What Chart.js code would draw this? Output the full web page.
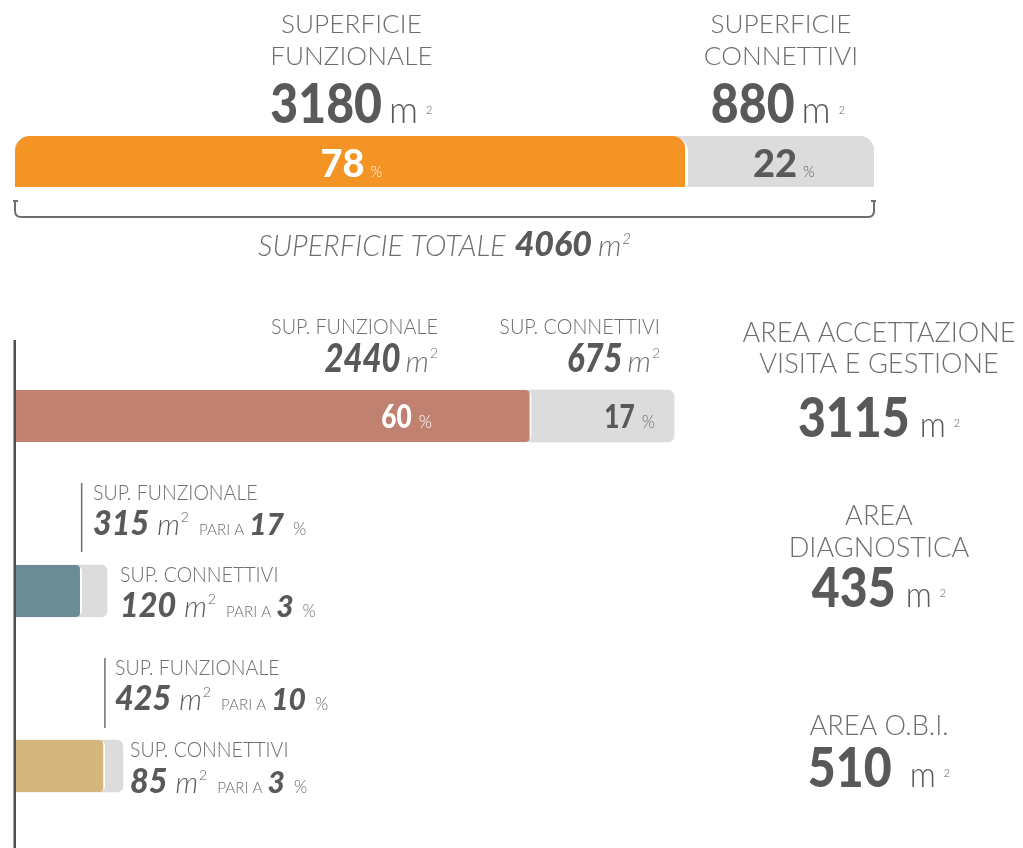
<!DOCTYPE html>
<html>
<head>
<meta charset="utf-8">
<script src="https://cdn.jsdelivr.net/npm/chart.js"></script>
<style>
  html, body { margin: 0; padding: 0; background: #fff; overflow: hidden; }
  #boxTotale { position: absolute; left: 0; top: 0; width: 1023px; height: 270px; }
  #boxAree { position: absolute; left: 0; top: 270px; width: 1023px; height: 590px; }
</style>
</head>
<body>
<div id="boxTotale"><canvas id="chartTotale"></canvas></div>
<div id="boxAree"><canvas id="chartAree"></canvas></div>
<script>
// superficie complessiva (m2)
var totFunzionale = [3180];
var totConnettivi = [880];
var totSuperficie = [4060];
var totPerc = [78, 22];

// suddivisione per area
var aree = [['AREA ACCETTAZIONE', 'VISITA E GESTIONE'], ['AREA', 'DIAGNOSTICA'], ['AREA O.B.I.']];
var areaFunzionale = [2440, 315, 425];
var areaConnettivi = [675, 120, 85];
var areaTotale = [3115, 435, 510];
var percFunzionale = [60, 17, 10];
var percConnettivi = [17, 3, 3];

var coloriAree = ['#c08171', '#6c8c93', '#d5b67c'];
var ARANCIO = '#f39424';
var GRIGIO_BARRA = '#dcdcdd';
var SCURO = '#58595b';
var CHIARO = '#6d6e71';

function L(s) { return '300 ' + s + 'px Lato'; }
function LI(s) { return 'italic 300 ' + s + 'px Lato'; }
function B(s) { return '900 ' + s + 'px Lato'; }
function BI(s) { return 'italic 900 ' + s + 'px Lato'; }

// scrive una riga composta da più pezzi (numero, unità, apice...)
function gruppo(ctx, x, y, align, parts) {
  var tot = 0;
  parts.forEach(function (p) {
    ctx.font = p.f;
    p.w = ctx.measureText(p.t).width * (p.sx || 1);
    tot += p.w + (p.gap || 0);
  });
  tot -= (parts[parts.length - 1].gap || 0);
  var cx = align === 'center' ? x - tot / 2 : (align === 'right' ? x - tot : x);
  parts.forEach(function (p) {
    ctx.save();
    ctx.font = p.f;
    ctx.fillStyle = p.c;
    ctx.textBaseline = 'alphabetic';
    ctx.textAlign = 'left';
    ctx.translate(cx, y + (p.dy || 0));
    ctx.scale(p.sx || 1, 1);
    ctx.fillText(p.t, 0, 0);
    ctx.restore();
    cx += p.w + (p.gap || 0);
  });
}

function metri(num, x, y, align, ctx) {
  gruppo(ctx, x, y, align, [
    { t: String(num), f: B(56), c: SCURO, sx: 0.86, gap: 7 },
    { t: 'm', f: L(38), c: SCURO, sx: 0.95, gap: 8 },
    { t: '2', f: L(11), c: SCURO, dy: -9 }
  ]);
}

function pariA(ctx, x, y, m2, perc) {
  gruppo(ctx, x, y, 'left', [
    { t: String(m2), f: BI(34), c: SCURO, sx: 0.95, gap: 8 },
    { t: 'm', f: LI(29), c: SCURO, gap: 1 },
    { t: '2', f: L(14), c: SCURO, dy: -13, gap: 10 },
    { t: 'PARI A', f: L(16), c: CHIARO, sx: 0.95, gap: 5 },
    { t: String(perc), f: BI(30), c: SCURO, gap: 9 },
    { t: '%', f: L(17), c: CHIARO }
  ]);
}

var testoTotale = {
  id: 'testoTotale',
  afterDatasetsDraw: function (chart) {
    var ctx = chart.ctx, area = chart.chartArea, xs = chart.scales.x;
    var xF = xs.getPixelForValue(totFunzionale[0]);
    var cF = (area.left + xF) / 2;
    var cC = (xF + area.right) / 2;

    gruppo(ctx, cF, 33, 'center', [{ t: 'SUPERFICIE', f: L(25), c: CHIARO, sx: 1.05 }]);
    gruppo(ctx, cF, 65, 'center', [{ t: 'FUNZIONALE', f: L(25), c: CHIARO, sx: 1.05 }]);
    metri(totFunzionale[0], cF, 123, 'center', ctx);
    gruppo(ctx, cF, 177, 'center', [
      { t: String(totPerc[0]), f: B(38), c: '#fff', gap: 6 },
      { t: '%', f: L(15), c: '#fff' }
    ]);

    gruppo(ctx, cC, 33, 'center', [{ t: 'SUPERFICIE', f: L(25), c: CHIARO, sx: 1.05 }]);
    gruppo(ctx, cC, 65, 'center', [{ t: 'CONNETTIVI', f: L(25), c: CHIARO, sx: 1.05 }]);
    metri(totConnettivi[0], cC - 3, 123, 'center', ctx);
    gruppo(ctx, cC + 3, 177, 'center', [
      { t: String(totPerc[1]), f: B(38), c: SCURO, gap: 6 },
      { t: '%', f: L(15), c: SCURO }
    ]);

    // parentesi sotto la barra
    ctx.save();
    ctx.strokeStyle = CHIARO;
    ctx.lineWidth = 2;
    ctx.beginPath();
    ctx.moveTo(area.left - 2, 201); ctx.lineTo(area.left + 3, 201);
    ctx.moveTo(area.left, 201); ctx.lineTo(area.left, 211);
    ctx.quadraticCurveTo(area.left, 217, area.left + 6, 217);
    ctx.lineTo(area.right - 6, 217);
    ctx.quadraticCurveTo(area.right, 217, area.right, 211);
    ctx.lineTo(area.right, 201);
    ctx.moveTo(area.right - 3, 201); ctx.lineTo(area.right + 2, 201);
    ctx.stroke();
    ctx.restore();

    gruppo(ctx, (area.left + area.right) / 2, 256, 'center', [
      { t: 'SUPERFICIE TOTALE', f: LI(29), c: CHIARO, gap: 9 },
      { t: String(totSuperficie[0]), f: BI(34), c: SCURO, gap: 6 },
      { t: 'm', f: LI(30), c: CHIARO, gap: 1 },
      { t: '2', f: LI(15), c: CHIARO, dy: -12 }
    ]);
  }
};

var testoAree = {
  id: 'testoAree',
  afterDatasetsDraw: function (chart) {
    var ctx = chart.ctx, area = chart.chartArea, xs = chart.scales.x;
    ctx.save();
    ctx.translate(0, -270);

    // asse verticale
    ctx.fillStyle = '#4f4f51';
    ctx.fillRect(area.left - 1.5, 340, 2.5, 520);

    // area accettazione
    gruppo(ctx, 438, 334, 'right', [{ t: 'SUP. FUNZIONALE', f: L(22), c: CHIARO, sx: 0.9 }]);
    gruppo(ctx, 438, 372, 'right', [
      { t: String(areaFunzionale[0]), f: BI(40), c: SCURO, sx: 0.82, gap: 5 },
      { t: 'm', f: LI(30), c: CHIARO, gap: 1 },
      { t: '2', f: L(14), c: CHIARO, dy: -14 }
    ]);
    gruppo(ctx, 660, 334, 'right', [{ t: 'SUP. CONNETTIVI', f: L(22), c: CHIARO, sx: 0.9 }]);
    gruppo(ctx, 660, 372, 'right', [
      { t: String(areaConnettivi[0]), f: BI(40), c: SCURO, sx: 0.82, gap: 5 },
      { t: 'm', f: LI(30), c: CHIARO, gap: 1 },
      { t: '2', f: L(14), c: CHIARO, dy: -14 }
    ]);
    gruppo(ctx, 432, 428, 'right', [
      { t: String(percFunzionale[0]), f: B(32), c: '#fff', sx: 0.82, gap: 7 },
      { t: '%', f: L(17), c: '#fff' }
    ]);
    gruppo(ctx, 655, 428, 'right', [
      { t: String(percConnettivi[0]), f: B(32), c: SCURO, sx: 0.82, gap: 7 },
      { t: '%', f: L(17), c: CHIARO }
    ]);

    // area diagnostica e o.b.i.: linea sottile alla fine della parte funzionale
    var righe = [
      { y0: 483, y1: 552, xf: 93, yf: [500, 535], xc: 120, yc: [582, 617] },
      { y0: 658, y1: 728, xf: 115, yf: [675, 710], xc: 130, yc: [757, 793] }
    ];
    righe.forEach(function (r, k) {
      var i = k + 1;
      var xl = xs.getPixelForValue(areaFunzionale[i]);
      ctx.fillStyle = CHIARO;
      ctx.fillRect(xl - 0.75, r.y0, 1.5, r.y1 - r.y0);
      gruppo(ctx, r.xf, r.yf[0], 'left', [{ t: 'SUP. FUNZIONALE', f: L(21), c: CHIARO, sx: 0.93 }]);
      pariA(ctx, r.xf, r.yf[1], areaFunzionale[i], percFunzionale[i]);
      gruppo(ctx, r.xc, r.yc[0], 'left', [{ t: 'SUP. CONNETTIVI', f: L(21), c: CHIARO, sx: 0.93 }]);
      pariA(ctx, r.xc, r.yc[1], areaConnettivi[i], percConnettivi[i]);
    });

    // nomi e totali delle aree
    var cx = 879;
    var titoli = [[342, 373], [525, 557], [735]];
    var totY = [437, 607, 787];
    aree.forEach(function (righeNome, i) {
      righeNome.forEach(function (s, j) {
        gruppo(ctx, cx, titoli[i][j], 'center', [{ t: s, f: L(28), c: CHIARO, sx: 0.97 }]);
      });
      gruppo(ctx, cx, totY[i], 'center', [
        { t: String(areaTotale[i]), f: B(56), c: SCURO, sx: 0.86, gap: i === 2 ? 18 : 10 },
        { t: 'm', f: L(36), c: SCURO, sx: 0.9, gap: 8 },
        { t: '2', f: L(11), c: SCURO, dy: -10 }
      ]);
    });
    ctx.restore();
  }
};

var opzioniBase = {
  indexAxis: 'y',
  responsive: true,
  maintainAspectRatio: false,
  animation: false,
  events: [],
  scales: {
    x: { min: 0, max: totSuperficie[0], display: false },
    y: { display: false }
  },
  plugins: { legend: { display: false }, tooltip: { enabled: false } }
};

new Chart(document.getElementById('chartTotale'), {
  type: 'bar',
  data: {
    labels: ['SUPERFICIE TOTALE'],
    datasets: [
      {
        label: 'Superficie funzionale',
        data: totFunzionale,
        backgroundColor: ARANCIO,
        borderColor: '#fff',
        borderWidth: { top: 0, right: 3, bottom: 0, left: 0 },
        borderRadius: { topLeft: 15, topRight: 16, bottomLeft: 0, bottomRight: 0 },
        borderSkipped: false,
        grouped: false,
        order: 1,
        barThickness: 51
      },
      {
        label: 'Superficie connettivi',
        data: totSuperficie,
        backgroundColor: GRIGIO_BARRA,
        borderRadius: { topLeft: 15, topRight: 15, bottomLeft: 0, bottomRight: 0 },
        borderSkipped: false,
        grouped: false,
        order: 2,
        barThickness: 51
      }
    ]
  },
  options: Object.assign({}, opzioniBase, {
    layout: { padding: { left: 15, right: 149, top: 136, bottom: 83 } }
  }),
  plugins: [testoTotale]
});

new Chart(document.getElementById('chartAree'), {
  type: 'bar',
  data: {
    labels: aree.map(function (a) { return a.join(' '); }),
    datasets: [
      {
        label: 'Sup. funzionale',
        data: areaFunzionale,
        backgroundColor: coloriAree,
        borderColor: '#fff',
        borderWidth: { top: 0, right: 2, bottom: 0, left: 0 },
        borderRadius: { topLeft: 0, topRight: 6, bottomLeft: 0, bottomRight: 6 },
        borderSkipped: false,
        grouped: false,
        order: 1,
        barThickness: 52
      },
      {
        label: 'Sup. connettivi',
        data: areaTotale,
        backgroundColor: GRIGIO_BARRA,
        borderRadius: { topLeft: 0, topRight: 6, bottomLeft: 0, bottomRight: 6 },
        borderSkipped: false,
        grouped: false,
        order: 2,
        barThickness: 52
      }
    ]
  },
  options: Object.assign({}, opzioniBase, {
    layout: { padding: { left: 15, right: 149, top: 58.5, bottom: 6.5 } }
  }),
  plugins: [testoAree]
});
</script>
</body>
</html>
